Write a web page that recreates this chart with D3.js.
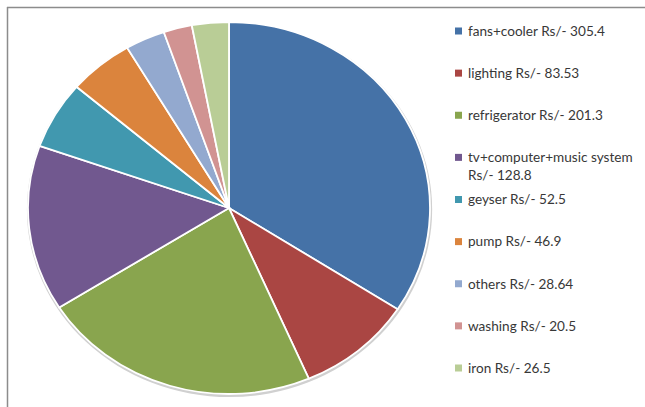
<!DOCTYPE html>
<html><head><meta charset="utf-8">
<script src="https://cdn.jsdelivr.net/npm/d3@7"></script>
<style>body{margin:0;background:#fff;} svg{display:block;}</style>
</head><body>
<svg id="c" width="645" height="407"></svg>
<script>
const categories = ["fans+cooler","lighting","refrigerator","tv+computer+music system","geyser","pump","others","washing","iron"];
const values = [305.4, 83.53, 201.3, 128.8, 52.5, 46.9, 28.64, 20.5, 26.5];
const colors = ["#4572A7","#AA4643","#89A54E","#71588F","#4198AF","#DB843D","#93A9CF","#D19392","#B9CD96"];

const svg = d3.select("#c");
// frame
svg.append("line").attr("x1",7).attr("y1",7.5).attr("x2",645).attr("y2",7.5).attr("stroke","#8c8c8c").attr("stroke-width",1.5);
svg.append("line").attr("x1",7.5).attr("y1",7).attr("x2",7.5).attr("y2",407).attr("stroke","#8c8c8c").attr("stroke-width",1.5);

const cx = 229, cy = 208, ry = 186, rx = 201;
const pie = d3.pie().sort(null).value(d => d)(values);
const arc = d3.arc().innerRadius(0).outerRadius(ry);
const g = svg.append("g").attr("transform", `translate(${cx},${cy}) scale(${rx/ry},1)`);
g.append("ellipse").attr("cx",0.5).attr("cy",1.5).attr("rx",ry+1.5).attr("ry",ry+1.5).attr("fill","#d0d0d0");
g.selectAll("path").data(pie).join("path")
  .attr("d", arc)
  .attr("fill", (d,i) => colors[i])
  .attr("stroke", "#fff").attr("stroke-width", 1.8)
  .attr("vector-effect","non-scaling-stroke");

// legend
const ly = d3.scalePoint().domain(d3.range(categories.length)).range([31, 368]);
const leg = svg.append("g");
categories.forEach((c, i) => {
  const y = ly(i);
  leg.append("rect").attr("x",455).attr("y",y-3.5).attr("width",7).attr("height",7).attr("fill",colors[i]);
  const t = leg.append("text").attr("x",468).attr("y",y).attr("dy","0.35em")
    .attr("font-family","Lato, 'Open Sans', sans-serif").attr("font-size",13.6).attr("fill","#383838");
  const label = `${c} Rs/- ${values[i]}`;
  if (c.length > 20) {
    t.append("tspan").attr("x",468).text(c);
    t.append("tspan").attr("x",468).attr("dy","1.3em").text(`Rs/- ${values[i]}`);
  } else {
    t.text(label);
  }
});
</script>
</body></html>
